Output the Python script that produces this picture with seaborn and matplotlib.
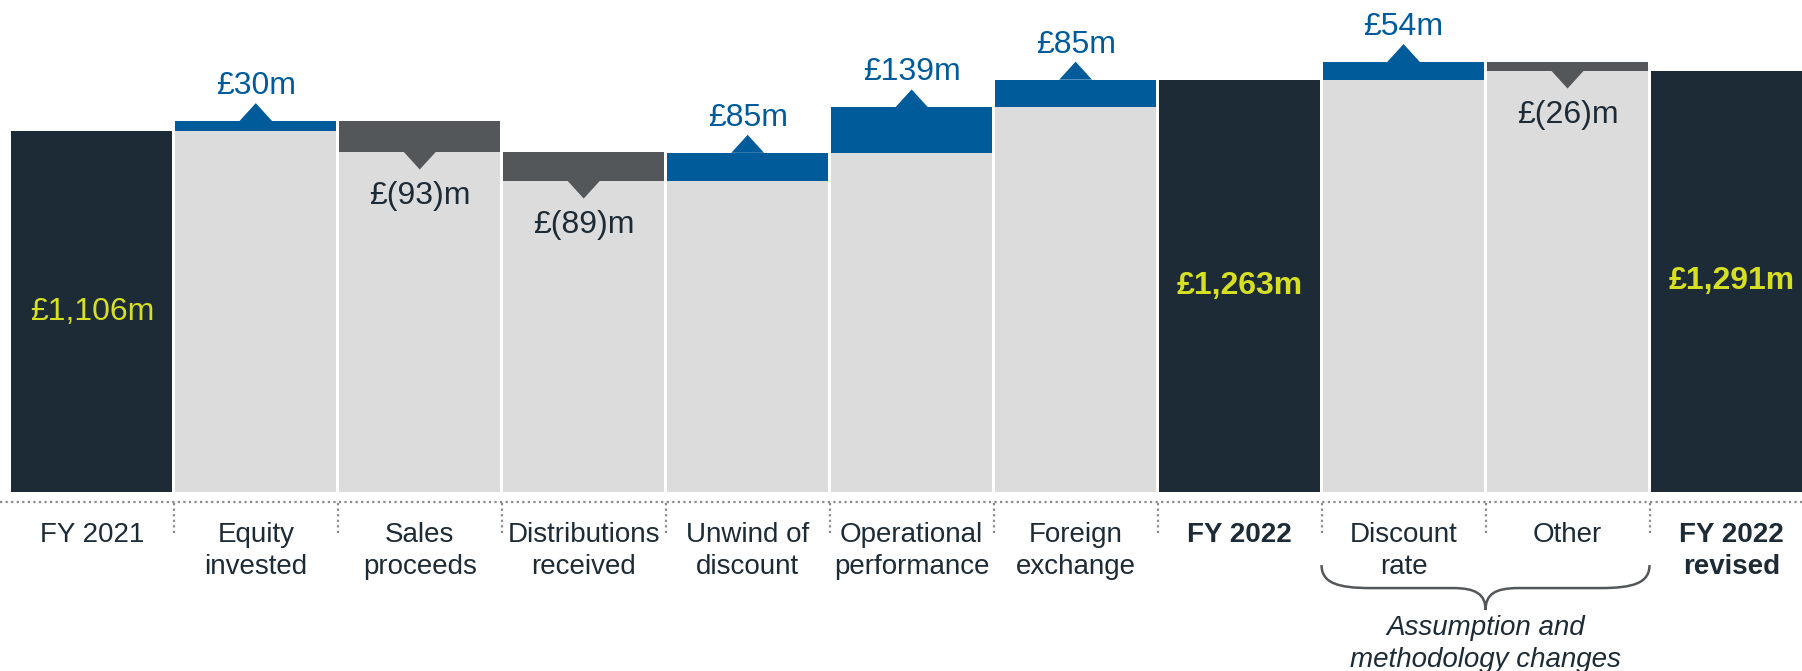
## IMPORTING LIBRARIES AND SETTING PARAMETERS
import pandas as pd
import seaborn as sns
from matplotlib import pyplot as plt
from matplotlib.path import Path
from matplotlib.patches import PathPatch, Polygon

## DATA
categories = ["FY 2021", "Equity\ninvested", "Sales\nproceeds", "Distributions\nreceived",
              "Unwind of\ndiscount", "Operational\nperformance", "Foreign\nexchange", "FY 2022",
              "Discount\nrate", "Other", "FY 2022\nrevised"]
changes = [1106, 30, -93, -89, 85, 139, 85, 1263, 54, -26, 1291]
is_total = [True, False, False, False, False, False, False, True, False, False, True]
value_labels = ["£1,106m", "£30m", "£(93)m", "£(89)m", "£85m", "£139m", "£85m",
                "£1,263m", "£54m", "£(26)m", "£1,291m"]
bold_categories = ["FY 2022", "FY 2022\nrevised"]
bracket_categories = ["Discount\nrate", "Other"]
bracket_label = "Assumption and\nmethodology changes"

## COLOURS
NAVY = "#1d2b36"
LIGHT = "#dcdcdd"
BLUE = "#005b9a"
DARK = "#54575a"
YELLOW = "#d6df22"
TEXT = "#1d2b36"
DOTS = "#8a8a8a"

sns.set_style('white')
plt.rcParams['font.family'] = ['Liberation Sans', 'DejaVu Sans']

## running totals -> upper / lower edge of every bar
upper, lower = [], []
running = 0
for v, tot in zip(changes, is_total):
    if tot:
        running = v
        upper.append(v)
        lower.append(v)
    else:
        new = running + v
        upper.append(max(running, new))
        lower.append(min(running, new))
        running = new

df = pd.DataFrame({'category': categories, 'upper': upper, 'lower': lower,
                   'change': changes, 'total': is_total})
top_colors = [NAVY if t else (BLUE if c > 0 else DARK) for c, t in zip(changes, is_total)]
base_colors = [NAVY if t else LIGHT for t in is_total]

fig = plt.figure(figsize=(18.02, 6.71), dpi=100)
ax = fig.add_axes([0, 0, 1, 1])
sns.barplot(data=df, x='category', y='upper', hue='category', palette=top_colors,
            width=0.98, saturation=1, linewidth=0, errorbar=None, legend=False, ax=ax)
sns.barplot(data=df, x='category', y='lower', hue='category', palette=base_colors,
            width=0.98, saturation=1, linewidth=0, errorbar=None, legend=False, ax=ax)

ymin, ymax = -548, 1507
ax.set_xlim(-0.56, 10.43)
ax.set_ylim(ymin, ymax)
ax.axis('off')
px = (ymax - ymin) / 671  # data units per pixel

## triangles and value labels
tri_w, tri_h = 0.2, 18 * px
for i, row in df.iterrows():
    label = value_labels[i]
    if row['total']:
        weight = 'bold' if row['category'] in bold_categories else 'normal'
        ax.text(i, row['upper'] / 2, label, ha='center', va='center', fontsize=23,
                color=YELLOW, fontweight=weight)
    elif row['change'] > 0:
        top = row['upper']
        ax.add_patch(Polygon([(i - tri_w / 2, top), (i + tri_w / 2, top), (i, top + tri_h)],
                             closed=True, color=BLUE, lw=0))
        ax.text(i, top + tri_h + 17 * px, label, ha='center', va='center', fontsize=23, color=BLUE)
    else:
        bot = row['lower']
        ax.add_patch(Polygon([(i - tri_w / 2, bot), (i + tri_w / 2, bot), (i, bot - tri_h)],
                             closed=True, color=DARK, lw=0))
        ax.text(i, bot - tri_h - 26 * px, label, ha='center', va='center', fontsize=23, color=TEXT)

## dotted axis line and separators
line_y = -10 * px
ax.axhline(line_y, color=DOTS, lw=1.6, linestyle=(0, (1, 1.5)))
ax.vlines([i + 0.5 for i in range(len(categories) - 1)], -41 * px, line_y,
          colors=DOTS, lw=1.6, linestyles=(0, (1, 1.5)))

## category labels
for i, cat in enumerate(categories):
    weight = 'bold' if cat in bold_categories else 'normal'
    ax.text(i, -30 * px, cat, ha='center', va='top', fontsize=20, color=TEXT,
            fontweight=weight, linespacing=1.32)

## brace under the assumption changes
x0 = categories.index(bracket_categories[0]) - 0.5
x1 = categories.index(bracket_categories[-1]) + 0.5
xm = (x0 + x1) / 2
y_end, y_flat, y_tip = -73 * px, -96 * px, -118 * px
verts = [(x0, y_end), (x0, y_flat + 5 * px), (x0 + 0.1, y_flat), (x0 + 0.3, y_flat),
         (xm - 0.2, y_flat),
         (xm - 0.06, y_flat), (xm, y_flat - 6 * px), (xm, y_tip),
         (xm, y_flat - 6 * px), (xm + 0.06, y_flat), (xm + 0.2, y_flat),
         (x1 - 0.3, y_flat),
         (x1 - 0.1, y_flat), (x1, y_flat + 5 * px), (x1, y_end)]
codes = [Path.MOVETO, Path.CURVE4, Path.CURVE4, Path.CURVE4, Path.LINETO,
         Path.CURVE4, Path.CURVE4, Path.CURVE4,
         Path.CURVE4, Path.CURVE4, Path.CURVE4, Path.LINETO,
         Path.CURVE4, Path.CURVE4, Path.CURVE4]
ax.add_patch(PathPatch(Path(verts, codes), facecolor='none', edgecolor=DARK, lw=1.8))
ax.text(xm, y_tip - 5 * px, bracket_label, ha='center', va='top', fontsize=20,
        color=TEXT, fontstyle='italic', linespacing=1.32)

## Saving figure
fig.savefig('out.png', dpi=100)
